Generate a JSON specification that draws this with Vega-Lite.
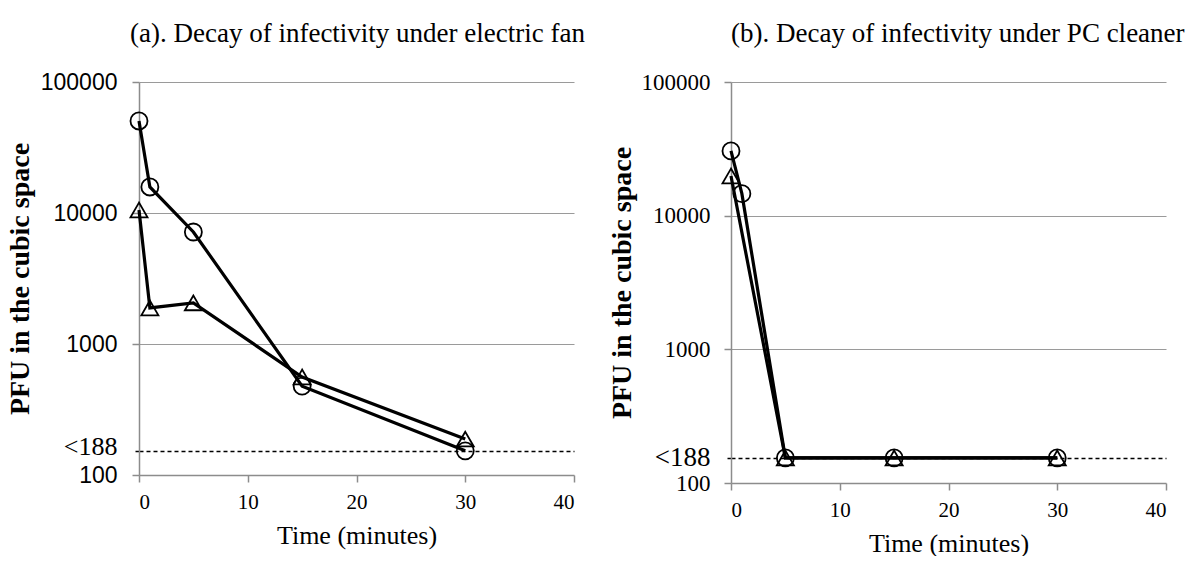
{
  "$schema": "https://vega.github.io/schema/vega-lite/v6.json",
  "background": "white",
  "padding": {"left": 6, "top": 20, "right": 2, "bottom": 0},
  "spacing": 22,
  "config": {
    "view": {"stroke": null},
    "axis": {
      "domainColor": "#8c8c8c",
      "domainWidth": 1.5,
      "tickColor": "#8c8c8c",
      "tickWidth": 1.5,
      "tickSize": 7,
      "gridColor": "#9a9a9a",
      "gridWidth": 1.2,
      "labelColor": "black",
      "titleColor": "black"
    }
  },
  "datasets": {
    "fan": [
      {"time": 0, "pfu": 50400, "series": "circle"},
      {"time": 1, "pfu": 15800, "series": "circle"},
      {"time": 5, "pfu": 7160, "series": "circle"},
      {"time": 15, "pfu": 477, "series": "circle"},
      {"time": 30, "pfu": 153, "series": "circle"},
      {"time": 0, "pfu": 10550, "series": "triangle"},
      {"time": 1, "pfu": 1885, "series": "triangle"},
      {"time": 5, "pfu": 2060, "series": "triangle"},
      {"time": 15, "pfu": 560, "series": "triangle"},
      {"time": 30, "pfu": 188, "series": "triangle"}
    ],
    "pc": [
      {"time": 0, "pfu": 30500, "series": "circle"},
      {"time": 1, "pfu": 14600, "series": "circle"},
      {"time": 5, "pfu": 154, "series": "circle"},
      {"time": 15, "pfu": 154, "series": "circle"},
      {"time": 30, "pfu": 154, "series": "circle"},
      {"time": 0, "pfu": 19800, "series": "triangle"},
      {"time": 5, "pfu": 154, "series": "triangle"},
      {"time": 15, "pfu": 154, "series": "triangle"},
      {"time": 30, "pfu": 154, "series": "triangle"}
    ]
  },
  "resolve": {"scale": {"x": "independent", "y": "independent", "shape": "independent"}},
  "hconcat": [
    {
      "width": 435,
      "height": 393,
      "title": {
        "text": "(a). Decay of infectivity under electric fan",
        "anchor": "start",
        "frame": "group",
        "dx": -9,
        "offset": 2,
        "baseline": "alphabetic",
        "font": "Liberation Serif",
        "fontSize": 27,
        "fontWeight": "normal",
        "color": "black"
      },
      "data": {"name": "fan"},
      "encoding": {
        "x": {
          "field": "time",
          "type": "quantitative",
          "scale": {"domain": [0, 40], "nice": false, "zero": false},
          "axis": {
            "values": [0, 10, 20, 30, 40],
            "grid": false,
            "title": "Time (minutes)",
            "titleFont": "Liberation Serif",
            "titleFontSize": 26,
            "titleFontWeight": "normal",
            "titlePadding": 10,
            "labelFont": "Liberation Serif",
            "labelFontSize": 21,
            "labelPadding": 9
          }
        },
        "y": {
          "field": "pfu",
          "type": "quantitative",
          "scale": {"type": "log", "domain": [100, 100000], "nice": false},
          "axis": {
            "values": [100, 153, 1000, 10000, 100000],
            "labelExpr": "datum.value == 153 ? '<188' : format(datum.value, 'd')",
            "labelOverlap": false,
            "labelBound": false,
            "labelFont": {"condition": {"test": "datum.value == 153", "value": "Liberation Serif"}, "value": "Liberation Sans"},
            "labelFontSize": {"condition": {"test": "datum.value == 153", "value": 26}, "value": 23},
            "labelOffset": {"condition": {"test": "datum.value == 153", "value": -4}, "value": 0},
            "labelPadding": 15,
            "gridColor": {"condition": {"test": "datum.value == 153", "value": "black"}, "value": "#9a9a9a"},
            "gridDash": {"condition": {"test": "datum.value == 153", "value": [4, 3]}, "value": []},
            "gridWidth": {"condition": {"test": "datum.value == 153", "value": 1.5}, "value": 1.2},
            "gridOpacity": {"condition": {"test": "datum.value == 100", "value": 0}, "value": 1},
            "tickColor": {"condition": {"test": "datum.value == 153", "value": "black"}, "value": "#8c8c8c"},
            "tickDash": {"condition": {"test": "datum.value == 153", "value": [4, 3]}, "value": []},
            "title": "PFU in the cubic space",
            "titleFont": "Liberation Serif",
            "titleFontSize": 28,
            "titleFontWeight": "bold",
            "titlePadding": 6
          }
        }
      },
      "layer": [
        {
          "mark": {"type": "line", "color": "black", "strokeWidth": 3.2},
          "encoding": {"detail": {"field": "series"}}
        },
        {
          "mark": {"type": "point", "filled": false, "stroke": "black", "strokeWidth": 1.8, "size": 290, "opacity": 1},
          "encoding": {
            "shape": {"field": "series", "type": "nominal", "scale": {"domain": ["circle", "triangle"], "range": ["circle", "triangle-up"]}, "legend": null}
          }
        }
      ]
    },
    {
      "width": 435,
      "height": 401,
      "title": {
        "text": "(b). Decay of infectivity under PC cleaner",
        "anchor": "start",
        "frame": "group",
        "dx": 0,
        "offset": 2,
        "baseline": "alphabetic",
        "font": "Liberation Serif",
        "fontSize": 27,
        "fontWeight": "normal",
        "color": "black"
      },
      "data": {"name": "pc"},
      "encoding": {
        "x": {
          "field": "time",
          "type": "quantitative",
          "scale": {"domain": [0, 40], "nice": false, "zero": false},
          "axis": {
            "values": [0, 10, 20, 30, 40],
            "grid": false,
            "title": "Time (minutes)",
            "titleFont": "Liberation Serif",
            "titleFontSize": 26,
            "titleFontWeight": "normal",
            "titlePadding": 10,
            "labelFont": "Liberation Serif",
            "labelFontSize": 21,
            "labelPadding": 9
          }
        },
        "y": {
          "field": "pfu",
          "type": "quantitative",
          "scale": {"type": "log", "domain": [100, 100000], "nice": false},
          "axis": {
            "values": [100, 154, 1000, 10000, 100000],
            "labelExpr": "datum.value == 154 ? '<188' : format(datum.value, 'd')",
            "labelOverlap": false,
            "labelBound": false,
            "labelFont": "Liberation Serif",
            "labelFontSize": {"condition": {"test": "datum.value == 154", "value": 27}, "value": 23},
            "labelPadding": 14,
            "gridColor": {"condition": {"test": "datum.value == 154", "value": "black"}, "value": "#9a9a9a"},
            "gridDash": {"condition": {"test": "datum.value == 154", "value": [4, 3]}, "value": []},
            "gridWidth": {"condition": {"test": "datum.value == 154", "value": 1.5}, "value": 1.2},
            "gridOpacity": {"condition": {"test": "datum.value == 100", "value": 0}, "value": 1},
            "tickColor": {"condition": {"test": "datum.value == 154", "value": "black"}, "value": "#8c8c8c"},
            "tickDash": {"condition": {"test": "datum.value == 154", "value": [4, 3]}, "value": []},
            "title": "PFU in the cubic space",
            "titleFont": "Liberation Serif",
            "titleFontSize": 28,
            "titleFontWeight": "bold",
            "titlePadding": 5
          }
        }
      },
      "layer": [
        {
          "mark": {"type": "line", "color": "black", "strokeWidth": 3.2},
          "encoding": {"detail": {"field": "series"}}
        },
        {
          "mark": {"type": "point", "filled": false, "stroke": "black", "strokeWidth": 1.8, "size": 290, "opacity": 1},
          "encoding": {
            "shape": {"field": "series", "type": "nominal", "scale": {"domain": ["circle", "triangle"], "range": ["circle", "triangle-up"]}, "legend": null}
          }
        }
      ]
    }
  ]
}
